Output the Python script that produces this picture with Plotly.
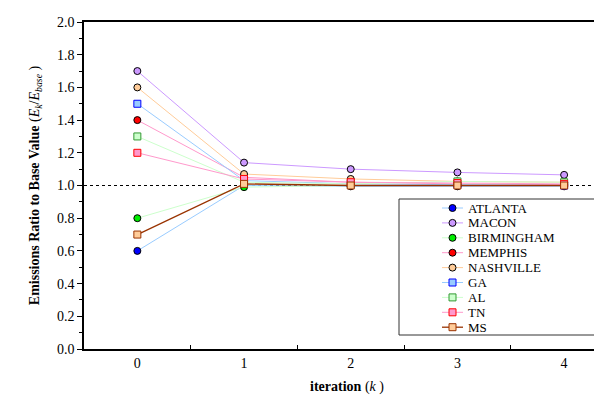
import plotly.graph_objects as go

iterations = [0, 1, 2, 3, 4]
series_names = ["ATLANTA", "MACON", "BIRMINGHAM", "MEMPHIS", "NASHVILLE", "GA", "AL", "TN", "MS"]
atlanta = [0.6, 1.00, 0.995, 0.995, 0.995]
macon = [1.7, 1.14, 1.10, 1.08, 1.065]
birmingham = [0.8, 0.99, 1.00, 1.00, 1.00]
memphis = [1.4, 1.05, 1.02, 1.01, 1.005]
nashville = [1.6, 1.07, 1.04, 1.025, 1.02]
ga = [1.5, 1.03, 1.01, 1.005, 1.00]
al = [1.3, 1.02, 1.01, 1.025, 1.02]
tn = [1.2, 1.04, 1.02, 1.015, 1.01]
ms = [0.7, 1.01, 1.00, 1.00, 1.00]
values = [atlanta, macon, birmingham, memphis, nashville, ga, al, tn, ms]
base_value = 1.0

styles = [
    # line color, line width, symbol, fill, outline
    ("#99ccff", 1, "circle", "#0000ff", "#000000"),
    ("#cc99ff", 1, "circle", "#cc99ff", "#000000"),
    ("#ccffcc", 1, "circle", "#00ee00", "#000000"),
    ("#ff99cc", 1, "circle", "#ff0000", "#000000"),
    ("#ffcc99", 1, "circle", "#ffcc99", "#000000"),
    ("#99ccff", 1, "square", "#99ccff", "#0000ff"),
    ("#ccffcc", 1, "square", "#ccffcc", "#339933"),
    ("#ff99cc", 1, "square", "#ff99cc", "#ff0000"),
    ("#993300", 1.3, "square", "#ffcc99", "#993300"),
]

serif = "Liberation Serif"

fig = go.Figure()
for name, vals, (lc, lw, sym, fc, oc) in zip(series_names, values, styles):
    fig.add_trace(go.Scatter(
        x=iterations, y=vals, name=name, mode="lines+markers",
        line=dict(color=lc, width=lw),
        marker=dict(symbol=sym, size=7, color=fc, line=dict(color=oc, width=1)),
        showlegend=False,
    ))

# Legend drawn on an overlay pixel-like axis pair (x2/y2) inside a framed box
leg_top = 200.0
leg_step = 14.9
for i, (name, (lc, lw, sym, fc, oc)) in enumerate(zip(series_names, styles)):
    yy = leg_top + i * leg_step
    fig.add_trace(go.Scatter(
        x=[434, 455], y=[yy, yy], xaxis="x2", yaxis="y2", mode="lines",
        line=dict(color=lc, width=lw), showlegend=False, hoverinfo="skip",
    ))
    fig.add_trace(go.Scatter(
        x=[444.5], y=[yy], xaxis="x2", yaxis="y2", mode="markers",
        marker=dict(symbol=sym, size=7, color=fc, line=dict(color=oc, width=1)),
        showlegend=False, hoverinfo="skip",
    ))
    fig.add_annotation(x=458, y=yy, xref="x2", yref="y2", text=name, showarrow=False,
                       xanchor="left", yanchor="middle",
                       font=dict(family=serif, size=13, color="black"))

fig.add_shape(type="line", xref="paper", yref="y", x0=0, x1=1, y0=base_value, y1=base_value,
              line=dict(color="black", width=1, dash="dot"), layer="below")
fig.add_shape(type="rect", xref="x2", yref="y2", x0=391, x1=598, y0=191, y1=327,
              line=dict(color="#333333", width=1), fillcolor="white", layer="below")

fig.update_layout(
    width=602, height=395,
    margin=dict(l=76, r=0, t=14, b=54),
    paper_bgcolor="white", plot_bgcolor="white",
    font=dict(family=serif, size=14, color="black"),
    showlegend=False,
    xaxis=dict(
        range=[-0.5, 4.43],
        tickvals=iterations, ticktext=[str(i) for i in iterations],
        ticks="", showgrid=False, zeroline=False,
        showline=True, linecolor="black", linewidth=1.5, mirror=True,
        minor=dict(tickvals=[0.5, 1.5, 2.5, 3.5], ticks="inside", ticklen=4, tickcolor="black", showgrid=False),
        tickfont=dict(family=serif, size=14),
        title=dict(text="<b>iteration</b> (<i>k</i> )", font=dict(family=serif, size=14), standoff=12),
    ),
    yaxis=dict(
        range=[0, 2.0],
        tickvals=[0, 0.2, 0.4, 0.6, 0.8, 1.0, 1.2, 1.4, 1.6, 1.8, 2.0],
        tickformat=".1f",
        ticks="outside", ticklen=5, tickcolor="black",
        minor=dict(tickvals=[0.1, 0.3, 0.5, 0.7, 0.9, 1.1, 1.3, 1.5, 1.7, 1.9], ticks="outside", ticklen=3, tickcolor="black", showgrid=False),
        showgrid=False, zeroline=False,
        showline=True, linecolor="black", linewidth=1.5, mirror=False,
        tickfont=dict(family=serif, size=14),
        title=dict(text="<b>Emissions Ratio to Base Value</b> (<i>E<sub>k</sub></i>/<i>E<sub>base</sub></i> )",
                   font=dict(family=serif, size=14), standoff=14),
    ),
    xaxis2=dict(domain=[0, 1], range=[76, 602], overlaying="x", visible=False, fixedrange=True),
    yaxis2=dict(domain=[0, 1], range=[341, 14], overlaying="y", visible=False, fixedrange=True, anchor="x2"),
)

fig.write_html("out.html")
